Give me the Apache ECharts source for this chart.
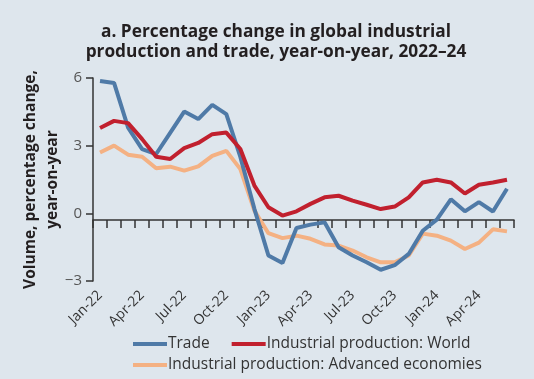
<!DOCTYPE html>
<html><head><meta charset="utf-8">
<script src="https://cdn.jsdelivr.net/npm/echarts@6/dist/echarts.min.js"></script>
<style>html,body{margin:0;padding:0;background:#dee6ed}#c{width:534px;height:379px}</style>
</head><body><div id="c"></div>
<script>
const months = ['Jan-22','Feb-22','Mar-22','Apr-22','May-22','Jun-22','Jul-22','Aug-22','Sep-22','Oct-22','Nov-22','Dec-22',
  'Jan-23','Feb-23','Mar-23','Apr-23','May-23','Jun-23','Jul-23','Aug-23','Sep-23','Oct-23','Nov-23','Dec-23',
  'Jan-24','Feb-24','Mar-24','Apr-24','May-24','Jun-24'];
const trade = [5.87,5.78,3.8,2.85,2.63,3.57,4.51,4.18,4.81,4.4,2.5,0.2,
  -1.87,-2.2,-0.65,-0.5,-0.4,-1.5,-1.87,-2.17,-2.5,-2.3,-1.8,-0.77,
  -0.28,0.62,0.09,0.5,0.08,1.09];
const ipWorld = [3.78,4.1,4.0,3.29,2.51,2.41,2.89,3.12,3.51,3.58,2.85,1.23,
  0.27,-0.1,0.09,0.42,0.71,0.78,0.56,0.38,0.19,0.3,0.71,1.37,
  1.49,1.37,0.88,1.27,1.37,1.49];
const ipAdv = [2.7,3.0,2.6,2.51,2.0,2.07,1.89,2.08,2.55,2.77,1.96,0.12,
  -0.88,-1.1,-0.99,-1.13,-1.38,-1.43,-1.65,-1.95,-2.17,-2.17,-1.87,-0.9,
  -0.99,-1.21,-1.58,-1.3,-0.71,-0.8];
const yTicks = [-3,0,3,6];
const seriesNames = ['Trade','Industrial production: World','Industrial production: Advanced economies'];
const titleText = 'a. Percentage change in global industrial\nproduction and trade, year-on-year, 2022\u201324';
const yName = 'Volume, percentage change,\nyear-on-year';

const FONT = '"Open Sans"';
const legendText = {fontFamily: FONT, fontSize: 15.5, color: '#333', padding: [0, 0, 0, -4]};
const chart = echarts.init(document.getElementById('c'), null, {renderer:'canvas'});
chart.setOption({
  backgroundColor: '#dee6ed',
  animation: false,
  title: {
    text: titleText, left: 271, top: 17, textAlign: 'center',
    textStyle: {fontFamily: FONT, fontSize: 17.3, fontWeight: 'bold', color: '#231f20', lineHeight: 20}
  },
  legend: [{
    data: [seriesNames[0], seriesNames[1]], left: 128, top: 331, icon: 'rect', padding: 5,
    itemWidth: 34, itemHeight: 4, itemGap: 22,
    textStyle: legendText
  },{
    data: [seriesNames[2]], left: 128, top: 352, icon: 'rect', padding: 5,
    itemWidth: 34, itemHeight: 4,
    textStyle: legendText
  }],
  grid: {left: 93, right: 20, top: 78, bottom: 98, containLabel: false, outerBoundsMode: 'none'},
  xAxis: {
    type: 'category', data: months, boundaryGap: true,
    axisLine: {onZero: true, onZeroAxisIndex: 1, lineStyle: {color: '#333', width: 1.5}},
    axisTick: {show: true, interval: 0, length: 8, lineStyle: {color: '#333', width: 1.5}},
    axisLabel: {interval: 2, rotate: 45, margin: 12, fontFamily: FONT, fontSize: 14, color: '#333'}
  },
  yAxis: [{
    type: 'value', min: -3, max: 6, interval: 3,
    name: yName, nameLocation: 'middle', nameRotate: 90, nameGap: 29, nameMoveOverlap: false,
    nameTextStyle: {fontFamily: FONT, fontSize: 15.5, fontWeight: 'bold', color: '#231f20', lineHeight: 22},
    axisLine: {show: true, lineStyle: {color: '#333', width: 1.5}},
    axisTick: {show: true, length: 7, lineStyle: {color: '#333', width: 1.5}},
    splitLine: {show: false},
    axisLabel: {fontFamily: FONT, fontSize: 15, color: '#555', margin: 11,
      formatter: v => yTicks.includes(v) ? String(v).replace('-', '\u2212') : ''}
  },{
    type: 'value', min: -3, max: 7, show: false, splitLine: {show: false}
  }],
  series: [
    {name: seriesNames[2], type: 'line', data: ipAdv, symbol: 'none', z: 2,
      lineStyle: {width: 4, color: '#f4b183'}, itemStyle: {color: '#f4b183'}},
    {name: seriesNames[0], type: 'line', data: trade, symbol: 'none', z: 3,
      lineStyle: {width: 4, color: '#4f7aa7'}, itemStyle: {color: '#4f7aa7'}},
    {name: seriesNames[1], type: 'line', data: ipWorld, symbol: 'none', z: 4,
      lineStyle: {width: 4, color: '#c1202e'}, itemStyle: {color: '#c1202e'}}
  ]
});
</script></body></html>
